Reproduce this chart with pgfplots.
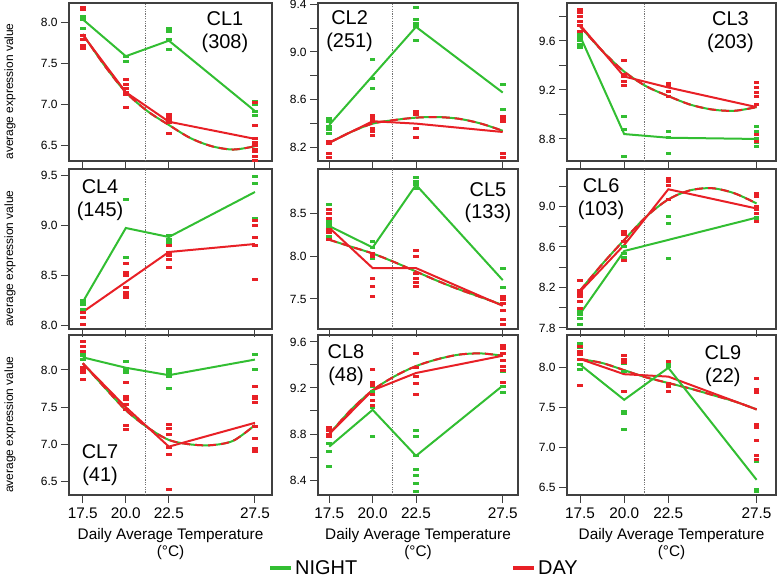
\documentclass[border=0pt]{standalone}
\usepackage{fontspec}
\setmainfont{Liberation Sans}
\usepackage{pgfplots}
\pgfplotsset{compat=1.18}

\definecolor{night}{RGB}{50,190,50}
\definecolor{day}{RGB}{232,32,38}

\pgfplotsset{
  panel/.style={
    scale only axis, anchor=north west,
    axis line style={black!75, line width=1.2bp},
    every tick/.style={black!75, line width=1bp},
    tick align=outside, tick pos=left,
    major tick length=8bp, minor tick length=8bp,
    xtick={17.5,20,22.5,27.5},
    tick label style={/pgf/number format/fixed, /pgf/number format/fixed zerofill,
      /pgf/number format/precision=1},
    /pgf/number format/assume math mode=true,
    yticklabel style={font=\fontsize{12}{12}\selectfont},
    xticklabel style={font=\fontsize{15.4}{15.4}\selectfont, yshift=-1bp},
    ylabel style={at={(axis description cs:-0.29,0.44)}, anchor=center,
      font=\fontsize{12}{12}\selectfont},
    xlabel style={align=center, font=\fontsize{15.4}{17}\selectfont, yshift=-3bp},
    clip=false,
  },
  nolab/.style={xticklabels={}},
  pts/.style={only marks, mark=-, mark size=2.8bp, mark options={line width=3bp}, forget plot},
  mean/.style={line width=2bp, mark=none, forget plot},
}
\tikzset{cl/.style={align=center, font=\fontsize{20}{23}\selectfont}}

% quadratic fit curve: green underneath, red dashes on top
\newcommand{\fitcurve}[1]{%
  \addplot[night, line width=2bp, smooth, forget plot] coordinates {#1};
  \addplot[day, line width=2bp, smooth, dash pattern=on 8bp off 5bp, forget plot] coordinates {#1};}
% dotted split line between 20.0 and 22.5
\newcommand{\tsplit}{%
  \draw[black!55, line width=0.9bp, dash pattern=on 1.2bp off 1.2bp]
    ({axis cs:21.15,0}|-{rel axis cs:0,0}) -- ({axis cs:21.15,0}|-{rel axis cs:0,1});}

\begin{document}
\begin{tikzpicture}
\path[use as bounding box] (0,0) rectangle (778bp,-581bp);

% ---------------- CL1
\begin{axis}[panel, nolab, at={(69bp,-3bp)}, width=203bp, height=158bp,
  xmin=16.70, xmax=28.49, ymin=6.31, ymax=8.24, ytick={6.5,7,7.5,8},
  ylabel={average expression value}]
\tsplit
\addplot[pts, night] coordinates {(17.5,8.08)(17.5,8.04)(17.5,7.93)(20,7.59)(20,7.53)(22.5,7.93)(22.5,7.89)(22.5,7.79)(22.5,7.67)(27.5,7.04)(27.5,7.00)(27.5,6.92)(27.5,6.86)};
\addplot[pts, day] coordinates {(17.5,8.19)(17.5,8.16)(17.5,7.84)(17.5,7.80)(17.5,7.72)(17.5,7.68)(20,7.30)(20,7.25)(20,7.20)(20,7.15)(20,7.12)(20,6.96)(22.5,6.88)(22.5,6.84)(22.5,6.81)(22.5,6.78)(22.5,6.65)(27.5,7.02)(27.5,6.74)(27.5,6.58)(27.5,6.54)(27.5,6.50)(27.5,6.45)(27.5,6.42)(27.5,6.36)(27.5,6.32)};
\fitcurve{(17.5,7.86)(18.75,7.48)(20,7.15)(21.25,6.92)(22.5,6.75)(23.75,6.59)(25,6.49)(26.25,6.45)(27.5,6.49)}
\addplot[mean, day] coordinates {(17.5,7.85)(20,7.15)(22.5,6.79)(27.5,6.58)};
\addplot[mean, night] coordinates {(17.5,8.04)(20,7.59)(22.5,7.78)(27.5,6.92)};
\node[cl] at (rel axis cs:0.768,0.813) {CL1\\(308)};
\end{axis}

% ---------------- CL2
\begin{axis}[panel, nolab, at={(318bp,-3bp)}, width=200bp, height=158bp,
  xmin=16.85, xmax=28.38, ymin=8.087, ymax=9.41,
  ytick={8.2,8.6,9.0,9.4}, minor ytick={8.4,8.8,9.2}]
\tsplit
\addplot[pts, night] coordinates {(17.5,8.44)(17.5,8.42)(17.5,8.38)(17.5,8.35)(17.5,8.32)(20,8.94)(20,8.78)(20,8.69)(22.5,9.37)(22.5,9.27)(22.5,9.24)(22.5,9.21)(22.5,9.10)(27.5,8.73)(27.5,8.52)};
\addplot[pts, day] coordinates {(17.5,8.25)(17.5,8.23)(17.5,8.15)(17.5,8.12)(20,8.47)(20,8.44)(20,8.42)(20,8.36)(20,8.33)(20,8.30)(22.5,8.50)(22.5,8.48)(22.5,8.36)(22.5,8.28)(27.5,8.46)(27.5,8.44)(27.5,8.42)(27.5,8.15)(27.5,8.12)};
\fitcurve{(17.5,8.24)(18.75,8.33)(20,8.40)(21.25,8.43)(22.5,8.45)(23.75,8.455)(25,8.44)(26.25,8.40)(27.5,8.34)}
\addplot[mean, day] coordinates {(17.5,8.24)(20,8.42)(22.5,8.40)(27.5,8.33)};
\addplot[mean, night] coordinates {(17.5,8.39)(20,8.80)(22.5,9.21)(27.5,8.66)};
\node[cl] at (rel axis cs:0.158,0.82) {CL2\\(251)};
\end{axis}

% ---------------- CL3
\begin{axis}[panel, nolab, at={(567bp,-3bp)}, width=209bp, height=158bp,
  xmin=16.76, xmax=28.6, ymin=8.62, ymax=9.91,
  ytick={8.8,9.2,9.6}, minor ytick={9.0,9.4,9.8}]
\tsplit
\addplot[pts, night] coordinates {(17.5,9.65)(17.5,9.63)(17.5,9.60)(17.5,9.57)(17.5,9.55)(20,8.98)(20,8.88)(20,8.66)(22.5,8.86)(22.5,8.81)(22.5,8.68)(27.5,8.90)(27.5,8.86)(27.5,8.80)(27.5,8.77)(27.5,8.74)};
\addplot[pts, day] coordinates {(17.5,9.86)(17.5,9.83)(17.5,9.80)(17.5,9.76)(17.5,9.73)(17.5,9.68)(20,9.44)(20,9.33)(20,9.31)(20,9.27)(20,9.24)(22.5,9.25)(22.5,9.23)(22.5,9.19)(22.5,9.15)(27.5,9.26)(27.5,9.22)(27.5,9.18)(27.5,9.15)(27.5,9.08)(27.5,8.84)(27.5,8.78)};
\fitcurve{(17.5,9.72)(18.75,9.52)(20,9.35)(21.25,9.23)(22.5,9.15)(23.75,9.08)(25,9.04)(26.25,9.03)(27.5,9.06)}
\addplot[mean, day] coordinates {(17.5,9.73)(20,9.31)(22.5,9.22)(27.5,9.06)};
\addplot[mean, night] coordinates {(17.5,9.64)(20,8.84)(22.5,8.81)(27.5,8.80)};
\node[cl] at (rel axis cs:0.782,0.813) {CL3\\(203)};
\end{axis}

% ---------------- CL4
\begin{axis}[panel, nolab, at={(69bp,-169bp)}, width=203bp, height=160bp,
  xmin=16.70, xmax=28.49, ymin=7.96, ymax=9.56, ytick={8,8.5,9,9.5},
  ylabel={average expression value}]
\tsplit
\addplot[pts, night] coordinates {(17.5,8.25)(17.5,8.23)(17.5,8.21)(17.5,8.16)(20,9.26)(20,8.68)(22.5,8.90)(22.5,8.86)(22.5,8.83)(27.5,9.49)(27.5,9.42)(27.5,9.07)};
\addplot[pts, day] coordinates {(17.5,8.13)(17.5,8.08)(17.5,8.01)(20,8.62)(20,8.53)(20,8.50)(20,8.38)(20,8.33)(20,8.31)(20,8.28)(22.5,8.80)(22.5,8.73)(22.5,8.70)(22.5,8.66)(22.5,8.58)(27.5,9.05)(27.5,9.00)(27.5,8.88)(27.5,8.80)(27.5,8.46)};
\addplot[mean, day] coordinates {(17.5,8.13)(20,8.43)(22.5,8.73)(27.5,8.81)};
\addplot[mean, night] coordinates {(17.5,8.23)(20,8.97)(22.5,8.88)(27.5,9.33)};
\node[cl] at (rel axis cs:0.153,0.806) {CL4\\(145)};
\end{axis}

% ---------------- CL5
\begin{axis}[panel, nolab, at={(318bp,-169bp)}, width=200bp, height=160bp,
  xmin=16.85, xmax=28.38, ymin=7.15, ymax=9.015, ytick={7.5,8,8.5}]
\tsplit
\addplot[pts, night] coordinates {(17.5,8.60)(17.5,8.42)(17.5,8.38)(17.5,8.35)(17.5,8.23)(17.5,8.20)(20,8.17)(20,8.10)(20,7.97)(22.5,8.92)(22.5,8.87)(22.5,8.83)(22.5,8.79)(27.5,7.86)(27.5,7.63)};
\addplot[pts, day] coordinates {(17.5,8.54)(17.5,8.50)(17.5,8.44)(17.5,8.31)(17.5,8.27)(17.5,8.19)(20,8.03)(20,7.99)(20,7.74)(20,7.65)(20,7.53)(22.5,8.07)(22.5,7.99)(22.5,7.80)(22.5,7.74)(22.5,7.69)(22.5,7.65)(27.5,7.53)(27.5,7.49)(27.5,7.45)(27.5,7.36)(27.5,7.26)(27.5,7.20)};
\fitcurve{(17.5,8.19)(18.75,8.11)(20,8.03)(21.25,7.93)(22.5,7.82)(23.75,7.71)(25,7.61)(26.25,7.52)(27.5,7.43)}
\addplot[mean, day] coordinates {(17.5,8.33)(20,7.86)(22.5,7.86)(27.5,7.42)};
\addplot[mean, night] coordinates {(17.5,8.35)(20,8.10)(22.5,8.83)(27.5,7.72)};
\node[cl] at (rel axis cs:0.85,0.79) {CL5\\(133)};
\end{axis}

% ---------------- CL6
\begin{axis}[panel, nolab, at={(567bp,-169bp)}, width=209bp, height=160bp,
  xmin=16.76, xmax=28.6, ymin=7.79, ymax=9.37,
  ytick={7.8,8.2,8.6,9.0}, minor ytick={8.0,8.4,8.8,9.2}]
\tsplit
\addplot[pts, night] coordinates {(17.5,7.96)(17.5,7.93)(17.5,7.89)(17.5,7.83)(20,8.60)(20,8.54)(20,8.50)(22.5,8.90)(22.5,8.83)(22.5,8.49)(27.5,8.89)(27.5,8.87)};
\addplot[pts, day] coordinates {(17.5,8.27)(17.5,8.17)(17.5,8.14)(17.5,8.11)(17.5,8.06)(17.5,7.99)(20,8.75)(20,8.72)(20,8.65)(20,8.47)(22.5,9.28)(22.5,9.25)(22.5,9.21)(22.5,9.07)(27.5,9.13)(27.5,9.10)(27.5,9.00)(27.5,8.97)(27.5,8.93)(27.5,8.85)};
\fitcurve{(17.5,8.17)(18.75,8.43)(20,8.67)(21.25,8.90)(22.5,9.07)(23.75,9.16)(25,9.18)(26.25,9.13)(27.5,9.03)}
\addplot[mean, day] coordinates {(17.5,8.16)(20,8.62)(22.5,9.17)(27.5,8.98)};
\addplot[mean, night] coordinates {(17.5,7.94)(20,8.56)(22.5,8.67)(27.5,8.89)};
\node[cl] at (rel axis cs:0.163,0.81) {CL6\\(103)};
\end{axis}

% ---------------- CL7
\begin{axis}[panel, at={(69bp,-335bp)}, width=203bp, height=160bp,
  xmin=16.70, xmax=28.49, ymin=6.32, ymax=8.47, ytick={6.5,7,7.5,8},
  ylabel={average expression value},
  xlabel={Daily Average Temperature\\(°C)}]
\tsplit
\addplot[pts, night] coordinates {(17.5,8.22)(17.5,8.19)(17.5,8.14)(20,8.11)(20,8.00)(20,7.96)(22.5,8.00)(22.5,7.96)(22.5,7.91)(22.5,7.75)(27.5,8.21)(27.5,8.00)};
\addplot[pts, day] coordinates {(17.5,8.38)(17.5,8.31)(17.5,8.25)(17.5,8.04)(17.5,8.00)(17.5,7.96)(17.5,7.87)(20,7.83)(20,7.65)(20,7.60)(20,7.53)(20,7.47)(20,7.26)(20,7.20)(22.5,7.27)(22.5,7.22)(22.5,7.13)(22.5,6.96)(22.5,6.86)(22.5,6.40)(27.5,7.78)(27.5,7.65)(27.5,7.62)(27.5,7.56)(27.5,7.24)(27.5,7.08)(27.5,6.95)(27.5,6.90)};
\fitcurve{(17.5,8.09)(18.75,7.77)(20,7.46)(21.25,7.23)(22.5,7.06)(23.75,7.00)(25,6.99)(26.25,7.05)(27.5,7.26)}
\addplot[mean, day] coordinates {(17.5,8.09)(20,7.50)(22.5,6.97)(27.5,7.29)};
\addplot[mean, night] coordinates {(17.5,8.17)(20,8.03)(22.5,7.93)(27.5,8.14)};
\node[cl] at (rel axis cs:0.153,0.1875) {CL7\\(41)};
\end{axis}

% ---------------- CL8
\begin{axis}[panel, at={(318bp,-335bp)}, width=200bp, height=160bp,
  xmin=16.85, xmax=28.38, ymin=8.27, ymax=9.66,
  ytick={8.4,8.8,9.2,9.6}, minor ytick={8.6,9.0,9.4},
  xlabel={Daily Average Temperature\\(°C)},
  legend columns=2,
  legend image code/.code={\draw[#1] (0bp,0bp) -- (21bp,0bp);},
  legend style={at={(axis description cs:-0.25,-0.456)}, anchor=west,
    draw=none, fill=none, inner sep=0pt, font=\fontsize{20}{20}\selectfont,
    nodes={inner sep=2bp},
    /tikz/every even column/.append style={column sep=152bp}}]
\tsplit
\addplot[pts, night] coordinates {(17.5,8.72)(17.5,8.65)(17.5,8.52)(20,9.21)(20,9.17)(20,9.03)(20,8.78)(22.5,8.83)(22.5,8.78)(22.5,8.61)(22.5,8.49)(22.5,8.44)(22.5,8.37)(22.5,8.30)(27.5,9.34)(27.5,9.21)(27.5,9.16)};
\addplot[pts, day] coordinates {(17.5,8.86)(17.5,8.83)(17.5,8.80)(17.5,8.78)(20,9.36)(20,9.25)(20,9.22)(20,9.14)(20,9.09)(20,9.05)(22.5,9.50)(22.5,9.38)(22.5,9.30)(22.5,9.24)(22.5,9.14)(27.5,9.57)(27.5,9.54)(27.5,9.50)(27.5,9.44)(27.5,9.39)(27.5,9.35)(27.5,9.25)};
\fitcurve{(17.5,8.80)(18.75,9.01)(20,9.18)(21.25,9.30)(22.5,9.39)(23.75,9.45)(25,9.49)(26.25,9.50)(27.5,9.48)}
\addplot[mean, day] coordinates {(17.5,8.80)(20,9.18)(22.5,9.33)(27.5,9.48)};
\addplot[mean, night] coordinates {(17.5,8.69)(20,9.01)(22.5,8.61)(27.5,9.22)};
\node[cl] at (rel axis cs:0.14,0.81) {CL8\\(48)};
\addlegendimage{night, line width=4bp}
\addlegendentry{NIGHT}
\addlegendimage{day, line width=4bp}
\addlegendentry{DAY}
\end{axis}

% ---------------- CL9
\begin{axis}[panel, at={(567bp,-335bp)}, width=209bp, height=160bp,
  xmin=16.76, xmax=28.6, ymin=6.41, ymax=8.41, ytick={6.5,7,7.5,8},
  xlabel={Daily Average Temperature\\(°C)}]
\tsplit
\addplot[pts, night] coordinates {(17.5,8.31)(17.5,8.25)(17.5,8.04)(17.5,7.98)(20,8.06)(20,7.96)(20,7.46)(20,7.43)(20,7.23)(22.5,8.06)(22.5,8.02)(27.5,6.83)(27.5,6.48)(27.5,6.45)};
\addplot[pts, day] coordinates {(17.5,8.27)(17.5,8.21)(17.5,8.17)(17.5,8.10)(17.5,7.78)(20,8.15)(20,8.11)(20,8.07)(20,7.71)(22.5,8.08)(22.5,7.81)(22.5,7.77)(22.5,7.71)(27.5,7.87)(27.5,7.73)(27.5,7.69)(27.5,7.29)(27.5,7.25)(27.5,7.09)(27.5,6.91)(27.5,6.85)};
\fitcurve{(17.5,8.11)(18.75,8.06)(20,7.97)(21.25,7.88)(22.5,7.81)(23.75,7.74)(25,7.66)(26.25,7.58)(27.5,7.48)}
\addplot[mean, day] coordinates {(17.5,8.11)(20,7.92)(22.5,7.89)(27.5,7.48)};
\addplot[mean, night] coordinates {(17.5,8.04)(20,7.60)(22.5,8.00)(27.5,6.60)};
\node[cl] at (rel axis cs:0.746,0.803) {CL9\\(22)};
\end{axis}
\end{tikzpicture}
\end{document}
